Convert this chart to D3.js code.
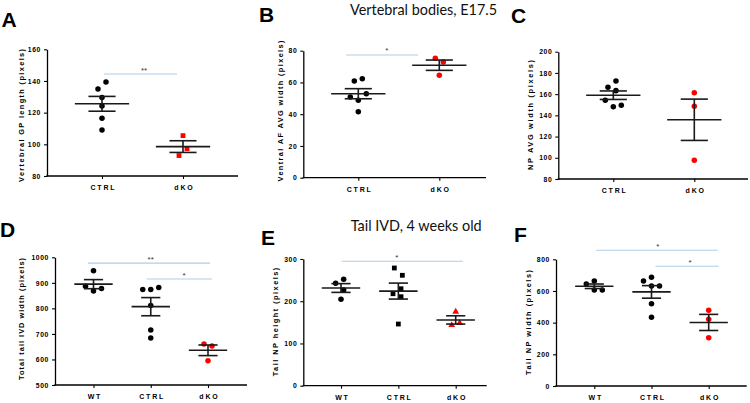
<!DOCTYPE html>
<html><head><meta charset="utf-8">
<script src="https://cdn.jsdelivr.net/npm/d3@7"></script>
<style>body{margin:0;background:#fff}svg{display:block}</style>
</head><body>
<script>
// ---------------- data ----------------
const catsE17 = ["CTRL", "dKO"];
const cats4wk = ["WT", "CTRL", "dKO"];

const titleTop = "Vertebral bodies, E17.5";
const titleBottom = "Tail IVD, 4 weeks old";

// A: Vertebral GP length
const aCTRL = [139.4, 135, 129.5, 124.2, 116.4, 109];
const aDKO = [105.5, 97.3, 92.9];
const ticksA = [80, 100, 120, 140, 160];
const sigA = [{from: "CTRL", to: "dKO", value: 144.4, label: "**"}];

// B: Ventral AF AVG width
const bCTRL = [62.4, 60.9, 48.8, 50.8, 52.9, 41.6];
const bDKO = [72.9, 75.2, 64.5];
const ticksB = [0, 20, 40, 60, 80];
const sigB = [{from: "CTRL", to: "dKO", value: 77.3, label: "*"}];

// C: NP AVG width
const cCTRL = [172.4, 166.4, 163.3, 148.2, 154.2, 149.5];
const cDKO = [161.4, 148.5, 97.6];
const ticksC = [80, 100, 120, 140, 160, 180, 200];
const sigC = [];

// D: Total tail IVD width
const dWT = [947, 868, 886.7, 877.6];
const dCTRL = [873.6, 873.6, 881.6, 811.6, 715.7, 684];
const dDKO = [652.6, 660.5, 594.6];
const ticksD = [500, 600, 700, 800, 900, 1000];
const sigD = [{from: "WT", to: "dKO", value: 977, label: "**"},
              {from: "CTRL", to: "dKO", value: 915, label: "*"}];

// E: Tail NP height
const eWT = [251.9, 242.4, 226.5, 204.5];
const eCTRL = [261.4, 278.7, 229.6, 217.8, 210.7, 146];
const eDKO = [175.2, 148.4, 143.6];
const ticksE = [0, 100, 200, 300];
const sigE = [{from: "WT", to: "dKO", value: 294.5, label: "*"}];

// F: Tail NP width
const fWT = [663, 644, 606, 606];
const fCTRL = [686, 663, 631, 631, 520, 434];
const fDKO = [478, 421, 305];
const ticksF = [0, 200, 400, 600, 800];
const sigF = [{from: "WT", to: "dKO", value: 857, label: "*"},
              {from: "CTRL", to: "dKO", value: 756, label: "*"}];

const yLabelA = "Vertebral GP length (pixels)";
const yLabelB = "Ventral AF AVG width (pixels)";
const yLabelC = "NP AVG width (pixels)";
const yLabelD = "Total tail IVD width (pixels)";
const yLabelE = "Tail NP height (pixels)";
const yLabelF = "Tail NP width (pixels)";

// ---------------- layout / style ----------------
const BLACK = "#000", RED = "#ff0000", SIG = "#aecde9";
const panels = [
  {letter: "A", cats: catsE17, groups: [aCTRL, aDKO], shapes: ["circle", "square"], colors: [BLACK, RED],
   ticks: ticksA, yLabel: yLabelA, sig: sigA,
   box: {x0: 47, x1: 238, yTop: 49.3, yBot: 176, c0: 102, c1: 183},
   let: {x: 1.5, y: 27}, yt: {x: 21, y: 115.5, len: 133},
   sigPos: [{a: 2, b: -6, tx: 144}]},
  {letter: "B", cats: catsE17, groups: [bCTRL, bDKO], shapes: ["circle", "circle"], colors: [BLACK, RED],
   ticks: ticksB, yLabel: yLabelB, sig: sigB,
   box: {x0: 303.3, x1: 486, yTop: 50.7, yBot: 177.7, c0: 358.3, c1: 439.3},
   let: {x: 259, y: 22}, yt: {x: 280.5, y: 111, len: 141},
   sigPos: [{a: -12, b: -21, tx: 386.7}]},
  {letter: "C", cats: catsE17, groups: [cCTRL, cDKO], shapes: ["circle", "circle"], colors: [BLACK, RED],
   ticks: ticksC, yLabel: yLabelC, sig: sigC,
   box: {x0: 558.3, x1: 748, yTop: 51.7, yBot: 179, c0: 613.3, c1: 694.3},
   let: {x: 511, y: 23}, yt: {x: 530, y: 115, len: 110},
   sigPos: []},
  {letter: "D", cats: cats4wk, groups: [dWT, dCTRL, dDKO], shapes: ["circle", "circle", "circle"], colors: [BLACK, BLACK, RED],
   ticks: ticksD, yLabel: yLabelD, sig: sigD,
   box: {x0: 55, x1: 247, yTop: 257.3, yBot: 385, c0: 93.5, c1: 208},
   let: {x: 0, y: 236.7}, yt: {x: 21.7, y: 319, len: 122},
   sigPos: [{a: -5.5, b: 2, tx: 150.7}, {a: -4, b: 4, tx: 184}]},
  {letter: "E", cats: cats4wk, groups: [eWT, eCTRL, eDKO], shapes: ["circle", "square", "triangle"], colors: [BLACK, BLACK, RED],
   ticks: ticksE, yLabel: yLabelE, sig: sigE,
   box: {x0: 303.3, x1: 486.7, yTop: 259, yBot: 385.7, c0: 341, c1: 455.7},
   let: {x: 261, y: 245}, yt: {x: 275, y: 322, len: 108.7},
   sigPos: [{a: 0.7, b: 7, tx: 396.7}]},
  {letter: "F", cats: cats4wk, groups: [fWT, fCTRL, fDKO], shapes: ["circle", "circle", "circle"], colors: [BLACK, BLACK, RED],
   ticks: ticksF, yLabel: yLabelF, sig: sigF,
   box: {x0: 556, x1: 746.7, yTop: 259.3, yBot: 386, c0: 594.3, c1: 708.7},
   let: {x: 514, y: 241.7}, yt: {x: 528.3, y: 322.5, len: 105},
   sigPos: [{a: 2, b: 9, tx: 657.7}, {a: 4, b: 10, tx: 690}]}
];

const svg = d3.select("body").append("svg").attr("width", 750).attr("height", 403);

// titles
svg.append("text").attr("x", 350).attr("y", 15).attr("textLength", 147).attr("lengthAdjust", "spacingAndGlyphs")
  .style("font-family", "Lato, 'Open Sans', sans-serif").style("font-size", "15px").attr("fill", "#111").text(titleTop);
svg.append("text").attr("x", 350.7).attr("y", 230.5).attr("textLength", 131).attr("lengthAdjust", "spacingAndGlyphs")
  .style("font-family", "Lato, 'Open Sans', sans-serif").style("font-size", "15px").attr("fill", "#111").text(titleBottom);

function jitter(vals, y) {
  const D = 7.5, step = 4;
  const cands = [0];
  for (let k = 1; k < 12; k++) cands.push(-k * step, k * step);
  const placed = [];
  vals.forEach((v, i) => {
    const py = y(v);
    for (const dx of cands) {
      if (placed.every(p => Math.abs(p.py - py) >= D || Math.abs(p.dx - dx) >= D)) {
        placed.push({v, py, dx, i});
        break;
      }
    }
  });
  const sorted = placed.slice().sort((a, b) => a.py - b.py);
  const clusters = [];
  let cur = null;
  sorted.forEach((p, k) => {
    if (k === 0 || p.py - sorted[k - 1].py >= D) { cur = [p]; clusters.push(cur); } else cur.push(p);
  });
  clusters.forEach(c => { const m = d3.mean(c, p => p.dx); c.forEach(p => p.dx -= m); });
  return placed.sort((a, b) => a.i - b.i);
}

const symbolTypes = {circle: d3.symbolCircle, square: d3.symbolSquare, triangle: d3.symbolTriangle};
const symbolSizes = {circle: 24, square: 23, triangle: 20};

panels.forEach(p => {
  const g = svg.append("g");
  const b = p.box;
  const y = d3.scaleLinear().domain([p.ticks[0], p.ticks[p.ticks.length - 1]]).range([b.yBot, b.yTop]);
  const x = d3.scalePoint().domain(p.cats).range([b.c0, b.c1]);
  const step = x.step();
  const meanHalf = step * 0.335, capHalf = meanHalf * 0.5;

  // panel letter
  g.append("text").attr("x", p.let.x).attr("y", p.let.y).text(p.letter)
    .style("font-family", "'Liberation Sans', Arial, sans-serif").style("font-weight", "bold").style("font-size", "21px").attr("fill", "#000");

  // y axis
  const ya = g.append("g").attr("transform", `translate(${b.x0},0)`)
    .call(d3.axisLeft(y).tickValues(p.ticks).tickSize(3).tickSizeOuter(0).tickPadding(3).tickFormat(d3.format("d")));
  ya.select(".domain").attr("stroke", "#000").attr("stroke-width", 1.3);
  ya.selectAll(".tick line").attr("stroke", "#000").attr("stroke-width", 1.1);
  ya.selectAll(".tick text").style("font-family", "'Liberation Sans', Arial, sans-serif").style("font-weight", "bold")
    .style("font-size", "6.8px").style("letter-spacing", "0.6px").attr("fill", "#000");

  // x axis
  const xa = g.append("g").attr("transform", `translate(0,${b.yBot})`)
    .call(d3.axisBottom(x).tickSize(3).tickPadding(6));
  xa.select(".domain").remove();
  xa.selectAll(".tick line").attr("stroke", "#000").attr("stroke-width", 1.1);
  xa.selectAll(".tick text").style("font-family", "'Liberation Sans', Arial, sans-serif").style("font-weight", "bold")
    .style("font-size", "7px").style("letter-spacing", "1.8px").attr("fill", "#000").attr("dx", "0.9px");
  g.append("line").attr("x1", b.x0 - 0.6).attr("x2", b.x1).attr("y1", b.yBot).attr("y2", b.yBot)
    .attr("stroke", "#000").attr("stroke-width", 1.3);

  // y title
  g.append("text").attr("transform", `translate(${p.yt.x},${p.yt.y}) rotate(-90)`)
    .attr("text-anchor", "middle").attr("dominant-baseline", "central")
    .attr("textLength", p.yt.len).attr("lengthAdjust", "spacing")
    .style("font-family", "'Liberation Sans', Arial, sans-serif").style("font-weight", "bold").style("font-size", "7.4px")
    .attr("fill", "#000").text(p.yLabel);

  // significance bars
  p.sig.forEach((s, k) => {
    const sp = p.sigPos[k];
    const yy = y(s.value);
    g.append("line").attr("x1", x(s.from) + sp.a).attr("x2", x(s.to) + sp.b).attr("y1", yy).attr("y2", yy)
      .attr("stroke", SIG).attr("stroke-width", 1.1);
    g.append("text").attr("x", sp.tx).attr("y", yy - 1.5).attr("text-anchor", "middle")
      .style("font-family", "'Liberation Sans', Arial, sans-serif").style("font-size", "8px").attr("fill", "#333").text(s.label);
  });

  // groups
  p.groups.forEach((vals, gi) => {
    const cx = x(p.cats[gi]);
    const m = d3.mean(vals);
    const sem = d3.deviation(vals) / Math.sqrt(vals.length);
    const pts = jitter(vals, y);
    const sym = d3.symbol().type(symbolTypes[p.shapes[gi]]).size(symbolSizes[p.shapes[gi]]);
    g.append("g").selectAll("path").data(pts).join("path")
      .attr("transform", d => `translate(${cx + d.dx},${d.py})`)
      .attr("d", sym).attr("fill", p.colors[gi]);
    const eg = g.append("g").attr("stroke", "#1a1a1a").attr("stroke-width", 1.6);
    eg.append("line").attr("x1", cx - meanHalf).attr("x2", cx + meanHalf).attr("y1", y(m)).attr("y2", y(m));
    eg.append("line").attr("x1", cx).attr("x2", cx).attr("y1", y(m + sem)).attr("y2", y(m - sem));
    eg.append("line").attr("x1", cx - capHalf).attr("x2", cx + capHalf).attr("y1", y(m + sem)).attr("y2", y(m + sem));
    eg.append("line").attr("x1", cx - capHalf).attr("x2", cx + capHalf).attr("y1", y(m - sem)).attr("y2", y(m - sem));
  });
});
</script>
</body></html>
